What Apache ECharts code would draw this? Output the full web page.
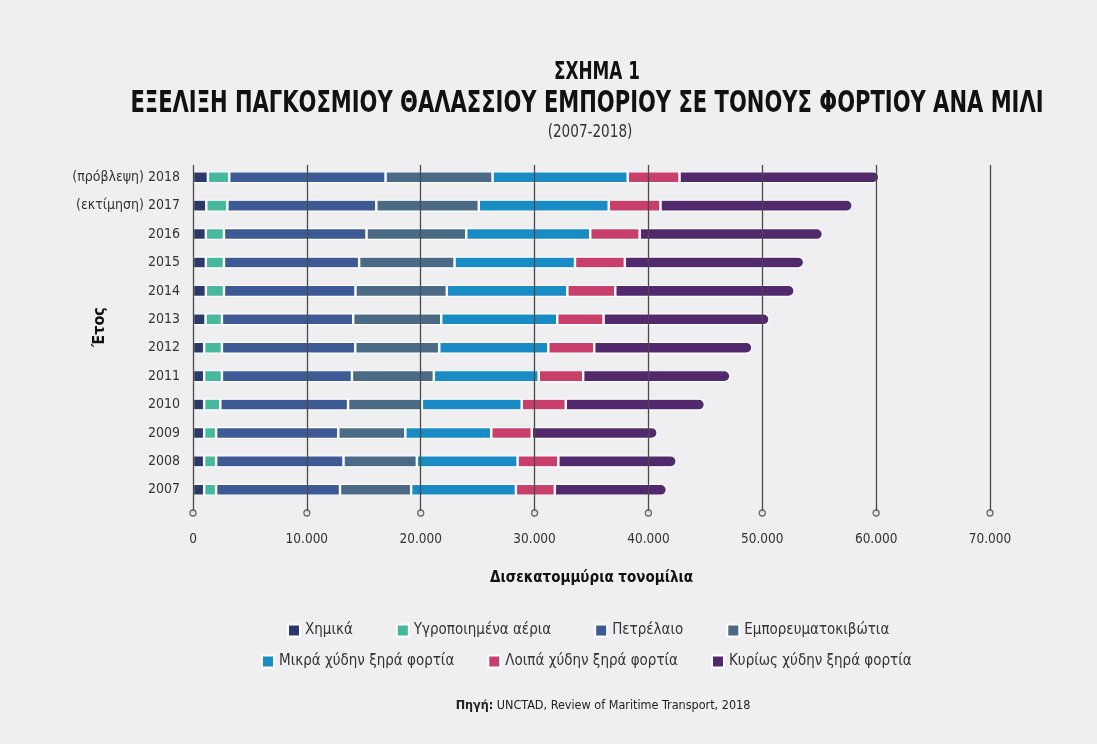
<!DOCTYPE html>
<html>
<head>
<meta charset="utf-8">
<script src="https://cdn.jsdelivr.net/npm/echarts@6/dist/echarts.min.js"></script>
<style>
html, body { margin: 0; padding: 0; background: #efeff1; }
#chart { width: 1097px; height: 744px; }
</style>
</head>
<body>
<div id="chart"></div>
<script>
// Years, bottom to top
const years = ['2007', '2008', '2009', '2010', '2011', '2012', '2013', '2014', '2015', '2016', '(εκτίμηση) 2017', '(πρόβλεψη) 2018'];

// Billions of ton-miles per cargo type
const chemicals = [980, 980, 980, 980, 980, 980, 1100, 1130, 1130, 1130, 1170, 1310];
const gas = [1050, 1050, 1050, 1420, 1560, 1560, 1440, 1590, 1590, 1590, 1850, 1870];
const oil = [10880, 11190, 10730, 11220, 11420, 11710, 11530, 11550, 11870, 12520, 13080, 13730];
const containers = [6250, 6440, 5890, 6480, 7190, 7380, 7730, 8020, 8380, 8760, 9000, 9400];
const minorBulks = [9200, 8850, 7550, 8770, 9210, 9580, 10190, 10590, 10580, 10890, 11410, 11870];
const otherDry = [3420, 3580, 3550, 3870, 3910, 4030, 4070, 4210, 4380, 4340, 4550, 4550];
const mainBulks = [9840, 10390, 11060, 12220, 12930, 13890, 14580, 15750, 15740, 16090, 16880, 17550];

const xTicks = [0, 10000, 20000, 30000, 40000, 50000, 60000, 70000];

const seriesNames = ['Χημικά', 'Υγροποιημένα αέρια', 'Πετρέλαιο', 'Εμπορευματοκιβώτια',
    'Μικρά χύδην ξηρά φορτία', 'Λοιπά χύδην ξηρά φορτία', 'Κυρίως χύδην ξηρά φορτία'];
const seriesData = [chemicals, gas, oil, containers, minorBulks, otherDry, mainBulks];
const seriesColors = ['#2c3a6b', '#46b89c', '#3e5a94', '#4b6a86', '#1a8cc5', '#c83f6c', '#52296d'];

const FONT = "'Liberation Sans Narrow', 'DejaVu Sans Condensed', 'Roboto', sans-serif";

const chart = echarts.init(document.getElementById('chart'));

// Building bar series
let series = seriesNames.map(function (name, i) {
    let last = i === seriesNames.length - 1;
    return {
        name: name,
        type: 'bar',
        stack: 'total',
        xAxisIndex: 0,
        yAxisIndex: 0,
        barWidth: 12,
        data: seriesData[i],
        itemStyle: {
            color: seriesColors[i],
            borderColor: '#ffffff',
            borderWidth: 1.2,
            borderRadius: last ? [0, 6, 6, 0] : 0
        },
        z: 2
    };
});

// Little circles at the foot of each grid line
series.push({
    type: 'scatter',
    xAxisIndex: 1,
    yAxisIndex: 1,
    data: xTicks.map(v => [v, 0]),
    symbol: 'circle',
    symbolSize: 6,
    clip: false,
    itemStyle: { color: '#efeff1', borderColor: '#4a4a4a', borderWidth: 1.3 },
    silent: true,
    z: 6
});

// Condensed heading texts (scaled horizontally)
function heading(text, x, y, size, weight, color, sx) {
    return {
        type: 'text',
        x: x, y: y,
        scaleX: sx,
        style: {
            text: text,
            fontFamily: FONT, fontSize: size, fontWeight: weight,
            fill: color,
            align: 'center', verticalAlign: 'middle'
        },
        z: 10
    };
}

let option = {
    backgroundColor: '#efeff1',
    textStyle: { fontFamily: FONT },
    graphic: [
        heading('ΣΧΗΜΑ 1', 597, 73, 24, 'bold', '#111', 0.78),
        heading('ΕΞΕΛΙΞΗ ΠΑΓΚΟΣΜΙΟΥ ΘΑΛΑΣΣΙΟΥ ΕΜΠΟΡΙΟΥ ΣΕ ΤΟΝΟΥΣ ΦΟΡΤΙΟΥ ΑΝΑ ΜΙΛΙ', 587, 104, 30, 'bold', '#111', 0.78),
        heading('(2007-2018)', 590, 132, 18, 'normal', '#333', 0.84),
        {
            type: 'text',
            x: 100, y: 327,
            rotation: Math.PI / 2,
            style: {
                text: 'Έτος', fontFamily: FONT, fontSize: 16, fontWeight: 'bold',
                fill: '#111', align: 'center', verticalAlign: 'middle'
            }
        }
    ],
    title: [
        {
            text: '{b|Πηγή:} UNCTAD, Review of Maritime Transport, 2018',
            left: 598, top: 694, textAlign: 'center',
            textStyle: {
                fontFamily: FONT, fontSize: 12.5, fontWeight: 'normal', color: '#222',
                rich: { b: { fontFamily: FONT, fontSize: 12.5, fontWeight: 'bold', color: '#222' } }
            }
        }
    ],
    legend: [
        {
            data: seriesNames.slice(0, 4),
            left: 282, top: 618,
            icon: 'rect', itemWidth: 12, itemHeight: 12, itemGap: 43,
            textStyle: { fontFamily: FONT, fontSize: 15, color: '#333' }
        },
        {
            data: seriesNames.slice(4),
            left: 256, top: 649,
            icon: 'rect', itemWidth: 12, itemHeight: 12, itemGap: 33,
            textStyle: { fontFamily: FONT, fontSize: 15, color: '#333' }
        }
    ],
    grid: [
        { left: 193, right: 107, top: 163, bottom: 240, containLabel: false },
        { left: 193, right: 107, top: 165, bottom: 231, containLabel: false }
    ],
    xAxis: [
        { gridIndex: 0, type: 'value', min: 0, max: 70000, show: false },
        {
            gridIndex: 1, type: 'value', min: 0, max: 70000, interval: 10000,
            z: 5,
            axisLine: { show: false },
            axisTick: { show: false },
            splitLine: { show: true, lineStyle: { color: '#4a4a4a', width: 1.3 } },
            axisLabel: {
                margin: 19, fontFamily: FONT, fontSize: 13.5, color: '#333',
                formatter: v => v === 0 ? '0' : v.toLocaleString('de-DE')
            },
            name: 'Δισεκατομμύρια τονομίλια',
            nameLocation: 'middle', nameGap: 58,
            nameTextStyle: { fontFamily: FONT, fontSize: 15, fontWeight: 'bold', color: '#111' }
        }
    ],
    yAxis: [
        {
            gridIndex: 0, type: 'category', data: years,
            axisLine: { show: false },
            axisTick: { show: false },
            axisLabel: { margin: 13, fontFamily: FONT, fontSize: 14, color: '#333' }
        },
        { gridIndex: 1, type: 'value', min: 0, max: 1, show: false }
    ],
    series: series
};
chart.setOption(option);
</script>
</body>
</html>
